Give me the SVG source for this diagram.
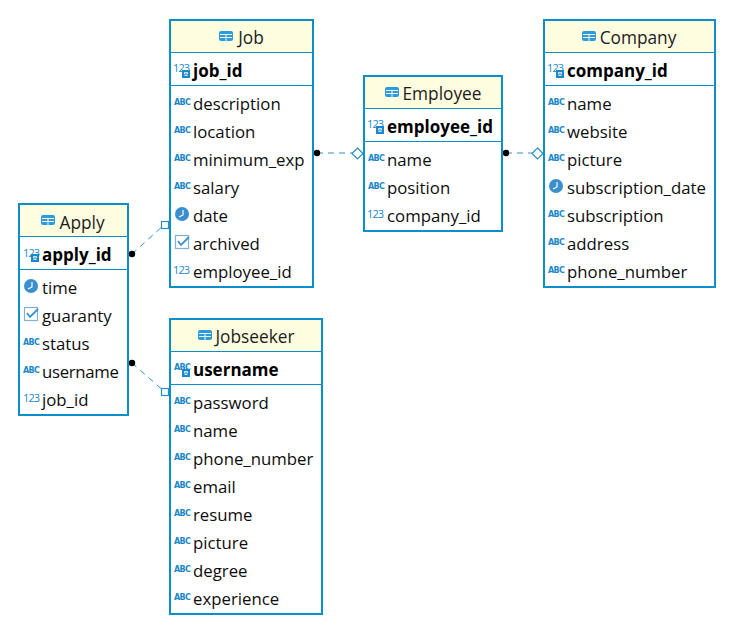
<svg xmlns="http://www.w3.org/2000/svg" width="755" height="639" viewBox="0 0 755 639">
<style>
text{font-family:"Open Sans","Noto Sans","Liberation Sans",sans-serif;font-size:16.8px;fill:#0d0d0d}
.t{text-anchor:middle;fill:#1c1c1c;font-size:17.3px}
.k{font-weight:700;fill:#000;font-size:17px}
.b{fill:#fff;stroke:#0a8fcb;stroke-width:2}
.h{fill:#fffde0}
.l{stroke:#0a8fcb;stroke-width:1;fill:none}
.c{stroke:#2f93c6;stroke-width:1;stroke-dasharray:6 5;fill:none}
.ic{font-family:"DejaVu Sans",sans-serif;font-size:8px;font-weight:700;letter-spacing:-.6px;fill:#1c87c9}
.n{font-family:"Open Sans",sans-serif;font-size:11px;letter-spacing:-.9px;fill:#1c87c9;font-weight:400}
.dot{fill:#000}
.sq{fill:#fff;stroke:#2a8fc4;stroke-width:1.200}
</style>
<defs>
<g id="tbl"><rect x="-7" y="-5" width="14" height="10" rx="2" fill="#2f9bd6"/><path d="M-6 -1.500H6M-6 1.500H6M0 -1.500V5" stroke="#e8f6fd" stroke-width="1"/></g>
<g id="clk"><circle cx="0" cy="0" r="7" fill="#3a8fcf"/><path d="M1 -4V1L-3 3" stroke="#fff" stroke-width="1.200" fill="none"/></g>
<g id="chk"><rect x="-6.500" y="-6.500" width="13" height="13" fill="#fff" stroke="#7fb2d6" stroke-width="1.200"/><path d="M-4 -1L-1 3L7 -5" stroke="#3a8fcf" stroke-width="1.800" fill="none"/></g>
<g id="lock"><rect x="-4" y="-4" width="8" height="8" fill="#1c87c9"/><path d="M-1.500 -1.500H1.500V0H-1.500ZM-1.500 1.500H1.500" fill="none" stroke="#fff" stroke-width=".8"/></g>
</defs>

<g id="connectors">
<path class="c" d="M132 254L165 224"/>
<path class="c" d="M132 363L165 392"/>
<path class="c" d="M317 153H353"/>
<path class="c" d="M506 153H533"/>
<circle class="dot" cx="132" cy="254" r="3.200"/>
<rect class="sq" x="161.500" y="221.500" width="7" height="7"/>
<circle class="dot" cx="132" cy="363" r="3.200"/>
<rect class="sq" x="161.500" y="388.500" width="7" height="7"/>
<circle class="dot" cx="317" cy="153" r="3.200"/>
<path class="sq" d="M357.500 148L363 153.500L357.500 159L352 153.500Z"/>
<circle class="dot" cx="506" cy="153" r="3.200"/>
<path class="sq" d="M537.500 148L543 153.500L537.500 159L532 153.500Z"/>
</g>

<g id="job">
<rect class="b" x="170" y="20" width="143" height="267"/>
<rect class="h" x="171" y="21" width="141" height="31"/>
<path class="l" d="M170 52.500H313M170 85.500H313"/>
<use href="#tbl" x="226" y="36"/><text class="t" x="251" y="44">Job</text>
<text class="n" x="173" y="72">123</text><use href="#lock" x="186" y="74"/><text class="k" x="193" y="77">job_id</text>
<text class="ic" x="174" y="104.500">ABC</text><text x="193" y="110">description</text>
<text class="ic" x="174" y="132.500">ABC</text><text x="193" y="138">location</text>
<text class="ic" x="174" y="160.500">ABC</text><text x="193" y="166">minimum_exp</text>
<text class="ic" x="174" y="188.500">ABC</text><text x="193" y="194">salary</text>
<use href="#clk" x="182" y="214"/><text x="193" y="222">date</text>
<use href="#chk" x="182" y="242"/><text x="193" y="250">archived</text>
<text class="n" x="173" y="274">123</text><text x="193" y="278">employee_id</text>
</g>

<g id="employee">
<rect class="b" x="364" y="76" width="138" height="155"/>
<rect class="h" x="365" y="77" width="136" height="31"/>
<path class="l" d="M364 108.500H502M364 141.500H502"/>
<use href="#tbl" x="392" y="92"/><text class="t" x="442" y="100">Employee</text>
<text class="n" x="367" y="128">123</text><use href="#lock" x="380" y="130"/><text class="k" x="387" y="133">employee_id</text>
<text class="ic" x="368" y="160.500">ABC</text><text x="387" y="166">name</text>
<text class="ic" x="368" y="188.500">ABC</text><text x="387" y="194">position</text>
<text class="n" x="367" y="218">123</text><text x="387" y="222">company_id</text>
</g>

<g id="company">
<rect class="b" x="544" y="20" width="171" height="267"/>
<rect class="h" x="545" y="21" width="169" height="31"/>
<path class="l" d="M544 52.500H715M544 85.500H715"/>
<use href="#tbl" x="589" y="36"/><text class="t" x="638" y="44">Company</text>
<text class="n" x="547" y="72">123</text><use href="#lock" x="560" y="74"/><text class="k" x="567" y="77">company_id</text>
<text class="ic" x="548" y="104.500">ABC</text><text x="567" y="110">name</text>
<text class="ic" x="548" y="132.500">ABC</text><text x="567" y="138">website</text>
<text class="ic" x="548" y="160.500">ABC</text><text x="567" y="166">picture</text>
<use href="#clk" x="556" y="186"/><text x="567" y="194">subscription_date</text>
<text class="ic" x="548" y="216.500">ABC</text><text x="567" y="222">subscription</text>
<text class="ic" x="548" y="244.500">ABC</text><text x="567" y="250">address</text>
<text class="ic" x="548" y="272.500">ABC</text><text x="567" y="278">phone_number</text>
</g>

<g id="apply">
<rect class="b" x="19" y="204" width="109" height="211"/>
<rect class="h" x="20" y="205" width="107" height="31"/>
<path class="l" d="M19 236.500H128M19 269.500H128"/>
<use href="#tbl" x="48" y="220"/><text class="t" x="82" y="229">Apply</text>
<text class="n" x="23" y="257">123</text><use href="#lock" x="35" y="258"/><text class="k" x="42" y="261">apply_id</text>
<use href="#clk" x="31" y="286"/><text x="42" y="294">time</text>
<use href="#chk" x="31" y="314"/><text x="42" y="322">guaranty</text>
<text class="ic" x="23" y="344.500">ABC</text><text x="42" y="350">status</text>
<text class="ic" x="23" y="372.500">ABC</text><text x="42" y="378" textLength="77">username</text>
<text class="n" x="23" y="402">123</text><text x="42" y="406">job_id</text>
</g>

<g id="jobseeker">
<rect class="b" x="170" y="319" width="152" height="295"/>
<rect class="h" x="171" y="320" width="150" height="31"/>
<path class="l" d="M170 351.500H322M170 384.500H322"/>
<use href="#tbl" x="205" y="335"/><text class="t" x="255" y="343">Jobseeker</text>
<text class="ic" x="174" y="370">ABC</text><use href="#lock" x="186" y="373"/><text class="k" x="193" y="376">username</text>
<text class="ic" x="174" y="403.500">ABC</text><text x="193" y="409">password</text>
<text class="ic" x="174" y="431.500">ABC</text><text x="193" y="437">name</text>
<text class="ic" x="174" y="459.500">ABC</text><text x="193" y="465">phone_number</text>
<text class="ic" x="174" y="487.500">ABC</text><text x="193" y="493">email</text>
<text class="ic" x="174" y="515.500">ABC</text><text x="193" y="521">resume</text>
<text class="ic" x="174" y="543.500">ABC</text><text x="193" y="549">picture</text>
<text class="ic" x="174" y="571.500">ABC</text><text x="193" y="577">degree</text>
<text class="ic" x="174" y="599.500">ABC</text><text x="193" y="605">experience</text>
</g>
</svg>
